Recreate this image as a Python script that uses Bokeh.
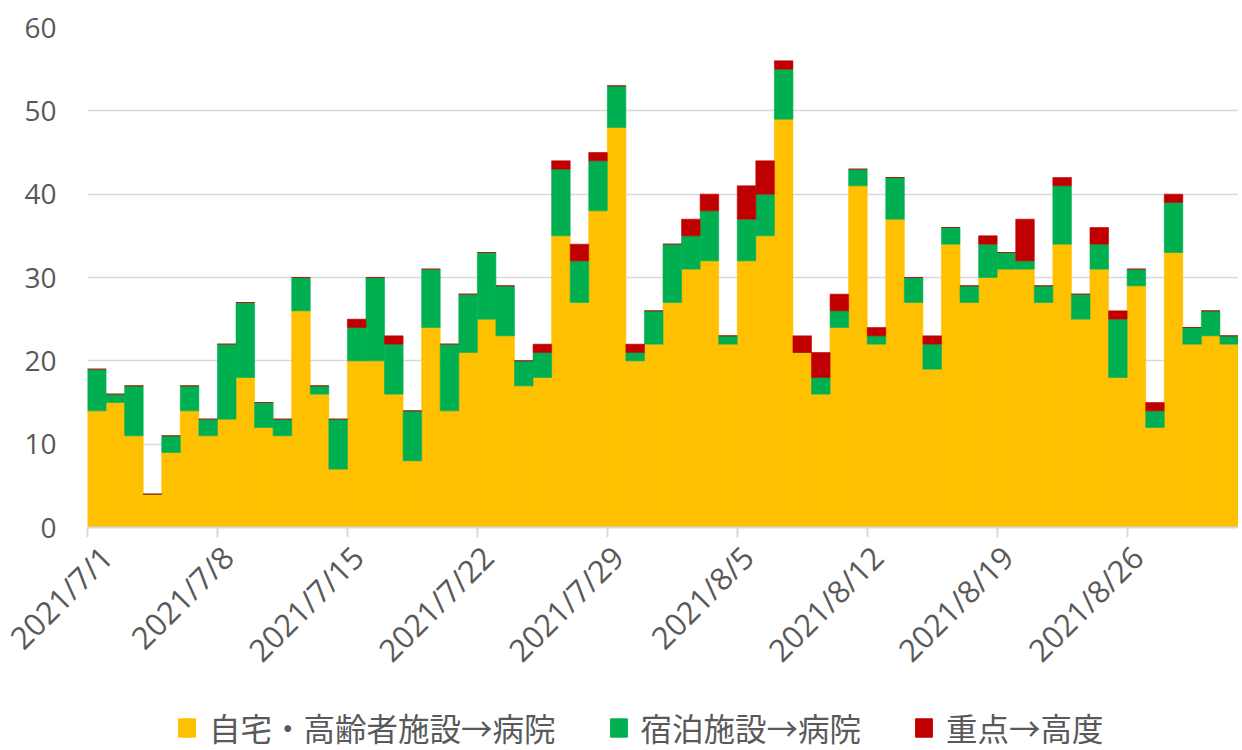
import math
from bokeh.plotting import figure
from bokeh.layouts import column
from bokeh.models import (FixedTicker, Legend, LegendItem, ColumnDataSource, Range1d)
from bokeh.embed import file_html
from bokeh.resources import INLINE

# ---- data ----
tick_labels = ["2021/7/1", "2021/7/8", "2021/7/15", "2021/7/22", "2021/7/29",
               "2021/8/5", "2021/8/12", "2021/8/19", "2021/8/26"]
y_ticks = [0, 10, 20, 30, 40, 50, 60]

series_names = ["自宅・高齢者施設→病院", "宿泊施設→病院", "重点→高度"]
colors = ["#FFC000", "#00B050", "#C00000"]

home = [14, 15, 11, 4, 9, 14, 11, 13, 18, 12, 11, 26, 16, 7, 20,
        20, 16, 8, 24, 14, 21, 25, 23, 17, 18, 35, 27, 38, 48, 20,
        22, 27, 31, 32, 22, 32, 35, 49, 21, 16, 24, 41, 22, 37, 27, 19,
        34, 27, 30, 31, 31, 27, 34, 25, 31, 18, 29, 12, 33, 22, 23, 22]
lodging = [5, 1, 6, 0, 2, 3, 2, 9, 9, 3, 2, 4, 1, 6, 4,
           10, 6, 6, 7, 8, 7, 8, 6, 3, 3, 8, 5, 6, 5, 1,
           4, 7, 4, 6, 1, 5, 5, 6, 0, 2, 2, 2, 1, 5, 3, 3,
           2, 2, 4, 2, 1, 2, 7, 3, 3, 7, 2, 2, 6, 2, 3, 1]
severe = [0, 0, 0, 0, 0, 0, 0, 0, 0, 0, 0, 0, 0, 0, 1,
          0, 1, 0, 0, 0, 0, 0, 0, 0, 1, 1, 2, 1, 0, 1,
          0, 0, 2, 2, 0, 4, 4, 1, 2, 3, 2, 0, 1, 0, 0, 1,
          0, 0, 1, 0, 5, 0, 1, 0, 2, 1, 0, 1, 1, 0, 0, 0]

n = len(home)
src = ColumnDataSource(dict(x=[i + 0.5 for i in range(n)],
                            home=home, lodging=lodging, severe=severe))

TEXT = "#595959"
GRID = "#d9d9d9"
W = 1238
H_CHART = 698
H_LEG = 52

p = figure(width=W, height=H_CHART, output_backend="svg", toolbar_location=None,
           x_range=Range1d(0, n), y_range=Range1d(0, 60),
           min_border_left=87, min_border_right=0, min_border_top=27,
           min_border_bottom=H_CHART - 527)
p.outline_line_color = None

p.vbar_stack(["home", "lodging", "severe"], x="x", width=1.0,
             color=colors, line_width=0.6, source=src)

# grid
p.xgrid.visible = False
p.ygrid.grid_line_color = GRID
p.ygrid.grid_line_width = 1.6

# y axis
p.yaxis.ticker = FixedTicker(ticks=y_ticks)
p.yaxis.axis_line_color = None
p.yaxis.major_tick_line_color = None
p.yaxis.minor_tick_line_color = None
p.yaxis.major_label_standoff = 25
p.yaxis.major_label_text_font = "Open Sans"
p.yaxis.major_label_text_font_size = "28px"
p.yaxis.major_label_text_color = TEXT

# x axis: tick marks on week boundaries (minor), labels slightly right (major)
week_ticks = [7 * k for k in range(len(tick_labels))]
label_pos = [t + 0.55 for t in week_ticks]
p.xaxis.ticker = FixedTicker(ticks=label_pos, minor_ticks=week_ticks)
p.xaxis.major_label_overrides = {t: lbl for t, lbl in zip(label_pos, tick_labels)}
p.xaxis.major_label_orientation = math.pi / 4
p.xaxis.axis_line_color = GRID
p.xaxis.axis_line_width = 2
p.xaxis.major_tick_line_color = None
p.xaxis.major_tick_in = 0
p.xaxis.major_tick_out = 10
p.xaxis.minor_tick_line_color = GRID
p.xaxis.minor_tick_line_width = 2
p.xaxis.minor_tick_in = 0
p.xaxis.minor_tick_out = 10
p.xaxis.major_label_standoff = 14
p.xaxis.major_label_text_font = "Open Sans"
p.xaxis.major_label_text_font_size = "31px"
p.xaxis.major_label_text_color = TEXT

# ---- legend strip ----
pl = figure(width=W, height=H_LEG, output_backend="svg", toolbar_location=None,
            x_range=Range1d(0, 1), y_range=Range1d(0, 1),
            x_axis_type=None, y_axis_type=None,
            min_border_left=0, min_border_right=0, min_border_top=0,
            min_border_bottom=0)
pl.outline_line_color = None
pl.grid.visible = False
# zero-size proxy bars, only used as legend handles
leg_renderers = [pl.vbar(x=[0], bottom=[0], top=[0], width=0, color=c)
                 for c in colors]

legend = Legend(items=[LegendItem(label=nm, renderers=[r])
                       for nm, r in zip(series_names, leg_renderers)],
                orientation="horizontal", location=(89, 0),
                label_text_font="Noto Sans CJK JP", label_text_font_size="31.5px",
                label_text_color=TEXT, label_standoff=12, spacing=52,
                glyph_width=21, glyph_height=23, padding=0, margin=0,
                border_line_alpha=0, background_fill_alpha=0)
pl.add_layout(legend)

layout = column(p, pl, spacing=0)
open("out.html", "w").write(file_html(layout, INLINE))
